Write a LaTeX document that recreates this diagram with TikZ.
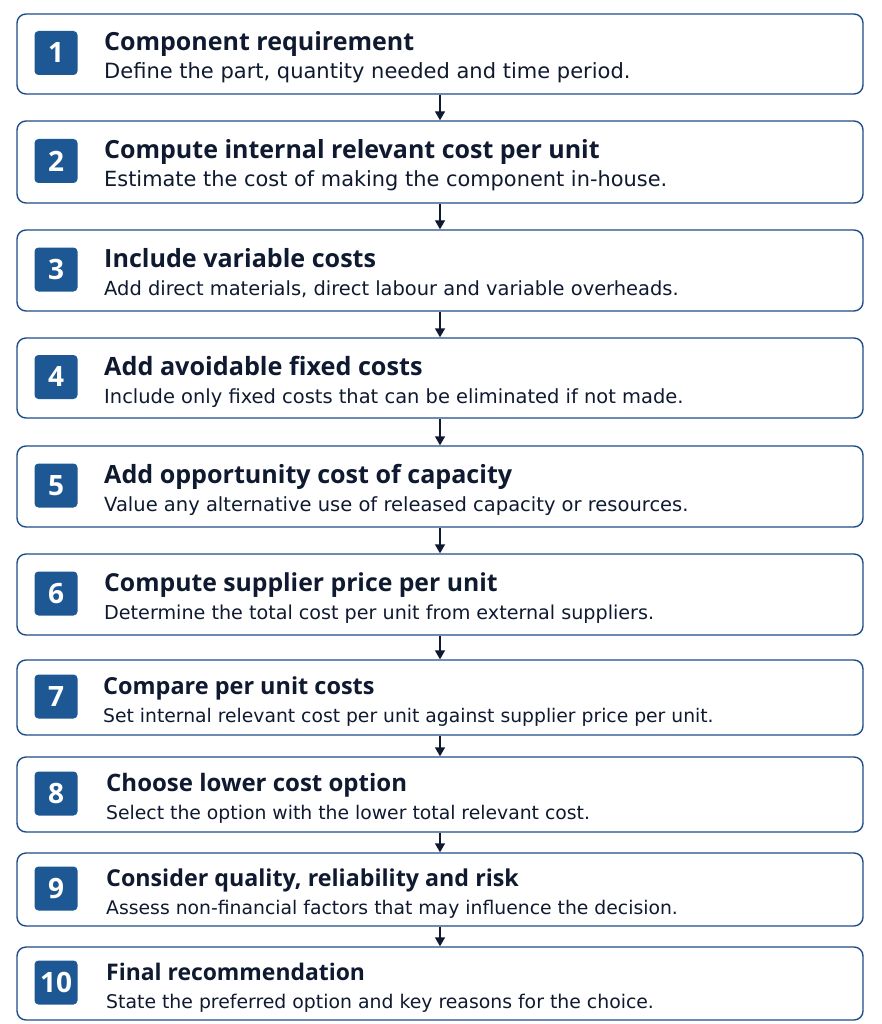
\documentclass[tikz,border=0pt]{standalone}
\usepackage{fontspec}
\setmainfont{Open Sans}
\newfontfamily\descfont{DejaVu Sans}
\usetikzlibrary{arrows.meta}
\definecolor{bord}{HTML}{1F4E89}
\definecolor{badgec}{HTML}{1E5894}
\definecolor{ink}{HTML}{0F1A30}
\tikzset{
  stepbox/.style={draw=bord, line width=1.4pt, rounded corners=9pt, fill=white, minimum width=846pt, inner sep=0pt},
  badge/.style={fill=badgec, rounded corners=4pt, minimum width=43pt, minimum height=44pt, inner sep=0pt, text=white, font=\fontsize{28}{28}\selectfont\bfseries},
  ttl/.style={anchor=base west, inner sep=0pt, text=ink},
  dsc/.style={anchor=base west, inner sep=0pt, text=ink},
  arr/.style={draw=ink, line width=1.4pt, -{Triangle[width=10pt,length=9pt]}}
}
\begin{document}
\begin{tikzpicture}[x=1pt,y=-1pt]
\useasboundingbox[fill=white] (0,0) rectangle (881,1024);
\foreach \i/\t/\b/\tx/\ft/\fd/\ti/\de in {
 1/14/94/104/25/21.0/{Component requirement}/{Define the part, quantity needed and time period.},
 2/121/203/104/25/20.9/{Compute internal relevant cost per unit}/{Estimate the cost of making the component in-house.},
 3/230/311/104/25.1/19.45/{Include variable costs}/{Add direct materials, direct labour and variable overheads.},
 4/338/418/104/25.2/19.45/{Add avoidable fixed costs}/{Include only fixed costs that can be eliminated if not made.},
 5/446/527/104/25.1/19.5/{Add opportunity cost of capacity}/{Value any alternative use of released capacity or resources.},
 6/554/635/104/24.75/19.15/{Compute supplier price per unit}/{Determine the total cost per unit from external suppliers.},
 7/660/735/103/23.45/18.75/{Compare per unit costs}/{Set internal relevant cost per unit against supplier price per unit.},
 8/757/832/106/24.0/18.8/{Choose lower cost option}/{Select the option with the lower total relevant cost.},
 9/853/926/106/23.25/18.8/{Consider quality, reliability and risk}/{Assess non-financial factors that may influence the decision.},
 10/947/1020/106/22.9/18.85/{Final recommendation}/{State the preferred option and key reasons for the choice.}}
{
  \pgfmathsetmacro\c{(\t+\b)/2}
  \pgfmathsetmacro\h{\b-\t}
  \node[stepbox, minimum height=\h pt] (b\i) at (440,\c) {};
  \node[badge] (n\i) at (56,\c-1) {\i};
  \node[ttl, font=\fontsize{\ft}{\ft}\selectfont\bfseries] (t\i) at (\tx,\c-3) {\ti};
  \node[dsc, font=\descfont\fontsize{\fd}{\fd}\selectfont] (d\i) at (\tx,\c+25) {\de};
}
\foreach \i in {1,...,9}{
  \pgfmathtruncatemacro\j{\i+1}
  \draw[arr] (b\i.south) -- (b\j.north);
}
\end{tikzpicture}
\end{document}
